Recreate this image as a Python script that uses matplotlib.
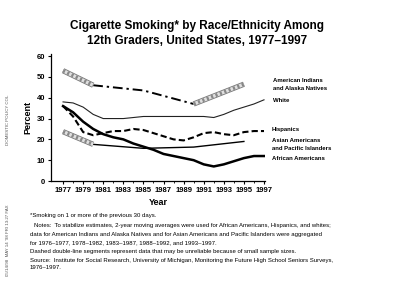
import matplotlib
matplotlib.use("Agg")
import matplotlib.pyplot as plt
import numpy as np

plt.rcParams['font.family'] = ['Liberation Sans', 'DejaVu Sans']

years = list(range(1977, 1998))
white = [38, 37.5, 35.5, 32, 30, 30, 30, 30.5, 31, 31, 31, 31, 31, 31, 31, 30.5, 32, 34, 35.5, 37, 39]
hispanic = [36, 31, 23.5, 22, 23, 24, 24, 25, 24.5, 23, 21.5, 20, 19.5, 21, 23, 23.5, 22.5, 22, 23.5, 24, 24]
african = [36, 33, 28.5, 25, 22.5, 21, 20, 18, 16.5, 15, 13, 12, 11, 10, 8, 7, 8, 9.5, 11, 12, 12]

agg_years = [1977, 1980, 1985, 1990, 1995]
am_indian = [53, 46, 43.5, 37, 46.5]
asian = [23.7, 17.6, 15.7, 16.3, 19]

xticks = list(range(1977, 1998, 2))
yticks = [0, 10, 20, 30, 40, 50, 60]

fig = plt.figure(figsize=(4.0, 3.03), dpi=100)
ax = fig.add_axes([0.1275, 0.4026, 0.535, 0.4191])


def hatched(x, y):
    ax.plot(x, y, color='#777777', lw=3.8, solid_capstyle='butt', zorder=3)
    ax.plot(x, y, color='#e0e0e0', lw=2.6, solid_capstyle='butt', zorder=4)
    ax.plot(x, y, color='#888888', lw=2.6, linestyle=(0, (0.6, 0.7)), zorder=5)


# American Indians and Alaska Natives
hatched(agg_years[0:2], am_indian[0:2])
ax.plot(agg_years[1:4], am_indian[1:4], color='black', lw=1.4,
        linestyle=(0, (5, 2, 1.2, 2)), zorder=3)
hatched(agg_years[3:5], am_indian[3:5])

# Asian Americans and Pacific Islanders
hatched(agg_years[0:2], asian[0:2])
ax.plot(agg_years[1:], asian[1:], color='black', lw=1.0, zorder=3)

# White
ax.plot(years, white, color='#222222', lw=0.8, zorder=3)
# Hispanics
ax.plot(years, hispanic, color='black', lw=1.5, linestyle=(0, (3, 1.5)), zorder=3)
# African Americans
ax.plot(years, african, color='black', lw=1.8, zorder=3)

ax.set_xlim(1975.8, 1997.1)
ax.set_ylim(0, 61)
ax.set_xticks(xticks)
ax.set_xticks(years, minor=True)
ax.set_yticks(yticks)
ax.tick_params(axis='both', labelsize=5.5, length=2, width=0.8, pad=2)
ax.tick_params(axis='x', which='minor', length=1.5, width=0.6)
for lab in ax.get_xticklabels() + ax.get_yticklabels():
    lab.set_fontweight('bold')
for s in ['top', 'right']:
    ax.spines[s].set_visible(False)
for s in ['left', 'bottom']:
    ax.spines[s].set_linewidth(0.9)

ax.set_xlabel('Year', fontsize=6.5, fontweight='bold', labelpad=3)
ax.set_ylabel('Percent', fontsize=6.5, fontweight='bold', labelpad=3)

# series labels
lab_kw = dict(fontsize=4.3, fontweight='bold', va='center', ha='left')
fig.text(273 / 400, 1 - 80 / 303, 'American Indians', **lab_kw)
fig.text(273 / 400, 1 - 88.5 / 303, 'and Alaska Natives', **lab_kw)
fig.text(273 / 400, 1 - 100 / 303, 'White', **lab_kw)
fig.text(272 / 400, 1 - 130 / 303, 'Hispanics', **lab_kw)
fig.text(272 / 400, 1 - 140 / 303, 'Asian Americans', **lab_kw)
fig.text(272 / 400, 1 - 148.5 / 303, 'and Pacific Islanders', **lab_kw)
fig.text(272 / 400, 1 - 159 / 303, 'African Americans', **lab_kw)

# title
fig.text(197 / 400, 1 - 33.5 / 303,
         'Cigarette Smoking* by Race/Ethnicity Among\n12th Graders, United States, 1977\u20131997',
         fontsize=8.5, fontweight='bold', ha='center', va='center', linespacing=1.4)

# footnotes
notes = [
    (30, 215.5, '*Smoking on 1 or more of the previous 30 days.'),
    (34, 225, 'Notes:  To stabilize estimates, 2-year moving averages were used for African Americans, Hispanics, and whites;'),
    (30, 234.5, 'data for American Indians and Alaska Natives and for Asian Americans and Pacific Islanders were aggregated'),
    (30, 243, 'for 1976\u20131977, 1978\u20131982, 1983\u20131987, 1988\u20131992, and 1993\u20131997.'),
    (30, 252, 'Dashed double-line segments represent data that may be unreliable because of small sample sizes.'),
    (30, 260.5, 'Source:  Institute for Social Research, University of Michigan, Monitoring the Future High School Seniors Surveys,'),
    (30, 267.5, '1976\u20131997.'),
]
for x, y, t in notes:
    fig.text(x / 400, 1 - y / 303, t, fontsize=4.3, ha='left', va='center')

# fax header margin text
fig.text(8 / 400, 1 - 120 / 303, 'DOMESTIC POLICY COL', fontsize=3.2, rotation=90,
         color='#555555', ha='center', va='center')
fig.text(8 / 400, 1 - 240 / 303, '05/14/98  MAY 14 \'98 FRI 13:27 FAX', fontsize=3.2,
         rotation=90, color='#555555', ha='center', va='center')

fig.savefig('out.png', dpi=100)
